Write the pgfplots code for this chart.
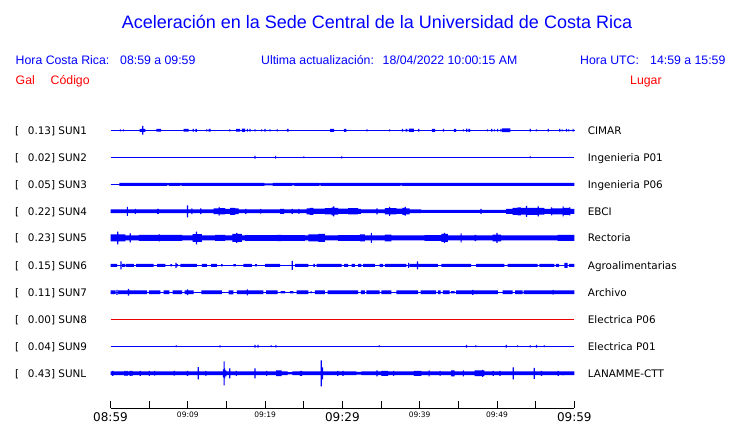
\documentclass[border=0pt]{standalone}
\usepackage{pgfplots}
\pgfplotsset{compat=1.18}
\usepackage{pgfplotstable}
\usepgfplotslibrary{fillbetween}
\usepackage{fontspec}
\setmainfont{DejaVu Sans}
\newfontfamily\lib{Liberation Sans}
\newfontfamily\dvs{DejaVu Sans}
\definecolor{ublue}{RGB}{0,0,255}
\definecolor{ured}{RGB}{255,0,0}
\definecolor{sred}{RGB}{235,0,0}
\newcommand{\bigt}[1]{{\fontsize{12}{13}\selectfont #1}}
\newcommand{\smt}[1]{{\fontsize{7.5}{8}\selectfont #1}}

% envelope tables: t (minutes after 08:59), h (half amplitude, px)
\pgfplotstableread{
t h
0 0
1.2 1
1.35 0
1.59 1
1.74 0
3.78 1.5
4.09 4.3
4.25 1.5
4.52 0
5.93 1.3
6.54 0
9.46 1.3
10.11 0
10.62 1.3
10.79 0
10.97 1.5
11.18 0
12.38 1
12.53 0
12.69 1.3
12.94 0
15.35 1
15.5 0
16.25 1.3
16.77 0
16.99 1.7
17.42 0
17.63 1.3
17.78 0
17.97 1.3
18.12 0
18.62 1
18.77 0
19.48 1
19.63 0
19.91 1.3
20.06 0
20.55 1
20.7 0
21.5 1
21.65 0
22.83 1.3
23.05 0
28.42 1.5
28.94 0
30.19 1.5
30.53 0
33.11 1
33.26 0
36.03 1
36.18 0
37.71 1.3
37.86 0
38.18 1.3
38.4 0
38.61 1.7
39.26 0
39.78 1.3
39.95 0
41.58 1.5
42.01 0
43.0 1.3
43.15 0
44.42 1.5
44.72 0
45.58 1
45.73 0
46.01 1.7
46.16 0
46.31 1.5
46.53 0
48.68 1
48.83 0
49.24 1.3
49.39 0
49.58 1
49.73 0
50.01 1.3
50.16 0
50.44 1.3
50.59 0
50.65 1.8
51.73 0
54.22 1.3
54.37 0
55.04 1
55.19 0
56.55 1.3
56.7 0
58.05 1.3
58.2 0
58.35 1
58.5 0
58.91 1.3
59.06 0
59.21 1
59.36 0
59.77 1.3
59.92 0
60 0
}\tA

\pgfplotstableread{
t h
0 0
18.62 1.3
18.77 0
21.29 1.3
21.44 0
24.94 0.8
25.09 0
29.84 1
29.99 0
54.22 0.8
54.37 0
60 0
}\tB

\pgfplotstableread{
t h
0 0
1.15 1.5
7.3 1.1
7.6 1.5
9.0 1.1
9.2 1.5
19.9 1.0
21.0 1.5
23.5 1.1
23.8 1.5
27.0 1.1
27.2 1.5
37.5 1.1
37.7 1.5
60 1.5
}\tC

\pgfplotstableread{
t h
0 1.8
2.11 4.5
2.26 1.8
3.14 2.5
3.29 1.8
6.02 2.5
6.25 1.8
9.89 6
10.04 1.8
10.45 2.8
10.6 1.8
11.61 2.8
11.76 1.8
13.33 2.8
13.98 4.3
14.13 3.2
14.84 2.5
15.48 3.5
16.13 2.8
16.56 1.8
17.42 2.5
17.57 1.8
19.35 2.3
19.5 1.8
21.93 2.5
22.45 1.8
23.44 2.5
23.59 1.8
24.3 2.5
24.45 1.8
25.37 3
25.8 3.5
26.23 2.7
27.74 3.2
28.6 4
28.81 5
28.96 3.3
29.46 2.7
30.75 3.2
32.04 2.5
32.38 1.8
34.4 3
34.55 1.8
35.48 3.2
36.03 4.5
36.18 3.2
36.98 2.7
37.75 3.5
38.06 4.3
38.21 3
38.7 1.8
40.2 1.5
47.86 2.5
48.01 1.5
51.17 2.5
52.03 3.5
52.68 4
53.1 3.3
53.75 5.5
53.9 3.5
54.61 3.5
55.26 5
55.41 3.3
56.12 2.5
56.98 4
57.13 3
57.84 3
58.48 5
58.63 3.5
59.34 4
59.49 2.5
60 2.5
}\tD

\pgfplotstableread{
t h
0 3.5
0.86 6.3
1.01 3.5
1.94 2.5
2.49 4.5
2.64 2.5
3.66 3
6.24 3.5
6.39 3
9.25 2.5
10.62 3.8
11.05 6.3
11.2 3.8
11.83 2.5
13.55 3
14.84 2.5
15.78 4
16.25 5
16.4 4
16.99 2.5
17.42 2.8
21.5 3.2
22.15 2.8
25.16 2.5
25.59 3.5
26.88 4
27.74 2.5
29.46 2.8
32.25 3.5
32.9 2.5
33.67 5
33.82 2.5
35.48 3.3
36.34 2.5
40.64 2.8
42.79 4
43.13 5
43.28 4
43.65 2.5
45.28 4.5
45.43 2.5
47.09 3.2
47.3 2.5
49.45 3.3
49.92 5
50.07 3.3
50.53 2.5
57.84 3
60 3
}\tE

\pgfplotstableread{
t h
0 1.5
0.86 0
1.29 4
1.44 0
1.5 1.5
1.94 0
2.02 1.5
3.01 0
3.31 1.5
5.59 0
6.02 1.5
7.1 0
7.74 1.2
7.96 0
8.39 2.5
8.54 1.2
8.73 0
9.03 1.5
11.18 0
11.83 1.5
12.47 0
13.03 1.5
13.76 0
14.32 1.2
14.49 0
15.91 1.2
16.21 0
17.2 1.5
18.28 0
18.7 1.2
18.92 0
20.0 1.5
21.93 0
23.44 4.5
23.6 0
23.87 1.5
25.59 0
26.23 1.5
26.45 0
26.66 1.5
29.89 0
30.23 1.5
30.75 0
31.18 1.5
31.61 0
32.04 1.5
32.47 0
32.68 1.5
34.19 0
34.83 1.5
35.26 0
35.48 1.5
38.27 0
38.49 2.5
38.64 0
38.7 1.5
39.65 4
39.8 1.5
42.36 0
42.79 1.5
46.66 0
47.3 1.5
50.96 0
51.39 1.5
55.26 0
55.47 1.5
57.41 0
57.62 1.5
58.05 0
58.7 2.5
59.13 0
59.34 1.5
60 1.5
}\tF

\pgfplotstableread{
t h
0 1.8
0.65 0
0.77 2.5
0.92 0
0.99 1.8
2.24 3.3
2.4 1.8
4.73 0
4.95 1.8
6.45 0
6.88 1.8
7.61 0
8.04 1.8
9.25 0
9.59 1.8
9.89 2.8
10.04 1.8
10.75 0
11.74 1.8
14.41 0
15.27 2
15.91 0
16.34 1.8
17.63 3
17.78 1.8
19.78 0
20.12 1.8
21.63 0
22.02 1.2
22.58 0
23.22 1.2
23.65 0
24.08 1.8
25.59 0
25.89 1.2
26.02 0
26.45 1.8
27.74 0
28.08 1.8
32.04 0
32.38 1.8
32.9 0
33.11 1.8
34.83 0
35.05 1.8
36.34 0
36.98 1.8
39.78 0
40.12 1.8
42.14 0
42.36 1.8
42.7 0
43.0 1.8
43.86 0
44.08 1.2
44.51 0
44.72 1.8
46.78 2.5
46.93 1.8
50.1 0
50.74 1.8
52.03 0
52.33 1.8
53.32 0
53.45 1.8
57.19 2.3
57.34 1.8
60 1.8
}\tG

\pgfplotstableread{
t h
0 0
8.43 0.8
8.58 0
14.1 1
14.25 0
18.62 1.3
18.77 0
19.0 1.3
19.15 0
20.73 0.8
20.88 0
21.3 1
21.5 0
34.7 0.8
34.85 0
45.97 1.3
46.12 0
47.17 0.8
47.32 0
51.13 1.3
51.28 0
52.59 0.8
52.74 0
54.22 1
54.37 0
55.04 1.3
55.19 0
56.03 0.8
56.18 0
60 0
}\tI

\pgfplotstableread{
t h
0 1.8
0.22 2.5
0.37 1.8
1.81 2.5
1.96 1.8
2.06 2.5
2.21 1.8
2.49 2.5
2.64 1.8
2.71 2.5
2.86 1.8
3.78 2.5
3.93 1.8
4.95 2.5
5.1 1.8
5.63 2.3
5.78 1.8
8.17 2.3
8.32 1.8
9.89 2.5
10.04 1.8
11.27 6.2
11.42 1.8
12.26 2.5
12.41 1.8
14.55 4
14.62 12
14.77 5
14.84 3
15.0 1.8
15.35 5
15.5 1.8
16.21 2.5
16.36 1.8
18.62 5
18.77 1.8
20.12 2.5
20.27 1.8
21.41 2.8
22.15 1.8
22.92 1.2
23.52 1.8
24.51 2.5
24.8 1.8
27.18 13
27.33 6
27.5 1.8
29.33 2.5
29.48 1.8
30.01 2.5
30.16 1.8
31.82 1.3
32.47 1.8
34.4 3
34.55 1.8
35.05 2.5
35.91 1.8
36.55 2.5
36.7 1.8
39.26 2.5
40.21 1.8
41.15 3
41.3 1.8
42.57 2.5
42.72 1.8
44.08 3
44.51 1.8
45.58 3
45.73 1.8
47.09 2.8
48.07 3.5
48.22 2.8
48.38 1.8
49.45 2.5
49.6 1.8
50.31 2.5
50.46 1.8
52.03 6
52.18 1.8
54.74 5.5
54.89 1.8
55.69 2.5
55.84 1.8
57.84 2.5
57.99 1.8
58.48 2
58.63 1.8
60 1.8
}\tL

\newcommand{\trace}[3]{%
  \addplot[name path=#3u, draw=none, const plot] table[x=t, y expr=#2+\thisrow{h}] {#1};
  \addplot[name path=#3d, draw=none, const plot] table[x=t, y expr=#2-\thisrow{h}] {#1};
  \addplot[draw=none, fill=ublue] fill between[of=#3u and #3d];
  \addplot[ublue, line width=1.1pt] table[x=t, y expr=#2] {#1};
}

\begin{document}
\begin{tikzpicture}
\path (0,0) rectangle (740pt,423pt);
\begin{axis}[
  at={(110.5pt,14.5pt)}, anchor=south west,
  scale only axis, width=463.8pt, height=408.5pt,
  xmin=0, xmax=60, ymin=14.5, ymax=423,
  axis x line*=bottom, hide y axis,
  xtick={0,5,...,60},
  xticklabels={{\bigt{08:59}},{},{\smt{09:09}},{},{\smt{09:19}},{},{\bigt{09:29}},{},{\smt{09:39}},{},{\smt{09:49}},{},{\bigt{09:59}}},
  xticklabel style={anchor=north, inner sep=0pt, yshift=-3.5pt, font=\dvs},
  tick align=inside, major tick length=7.5pt,
  axis line style={black, line width=0.9pt},
  tick style={black, line width=0.9pt},
  clip=false,
]
\trace{\tA}{292.7}{a}
\trace{\tB}{265.7}{b}
\trace{\tC}{238.7}{c}
\trace{\tD}{211.7}{d}
\trace{\tE}{185.0}{e}
\trace{\tF}{157.7}{f}
\trace{\tG}{130.7}{g}
\addplot[sred, line width=1.2pt] coordinates {(0,103.7) (60,103.7)};
\trace{\tI}{76.7}{i}
\trace{\tL}{49.7}{l}
\end{axis}

% title and header
\node[anchor=base, inner sep=0pt, text=ublue, font=\lib\fontsize{18}{20}\selectfont] at (377pt,394pt) {Aceleración en la Sede Central de la Universidad de Costa Rica};
\begin{scope}[every node/.style={anchor=base west, inner sep=0pt, font=\lib\fontsize{12.3}{14}\selectfont}]
\node[text=ublue] at (15.5pt,358.3pt) {Hora Costa Rica:};
\node[text=ublue] at (120pt,358.3pt) {08:59 a 09:59};
\node[text=ublue] at (261pt,358.3pt) {Ultima actualización:};
\node[text=ublue] at (382.5pt,358.3pt) {18/04/2022 10:00:15 AM};
\node[text=ublue] at (580pt,358.3pt) {Hora UTC:};
\node[text=ublue] at (650pt,358.3pt) {14:59 a 15:59};
\node[text=ured] at (15.5pt,338.6pt) {Gal};
\node[text=ured] at (50.5pt,338.6pt) {Código};
\node[text=ured] at (630pt,338.6pt) {Lugar};
\end{scope}

% row labels
\begin{scope}[every node/.style={anchor=base west, inner sep=0pt, font=\dvs\fontsize{10.4}{12}\selectfont}]
\foreach \y/\v/\n/\l in {288.9/0.13/SUN1/CIMAR, 261.9/0.02/SUN2/Ingenieria P01, 234.9/0.05/SUN3/Ingenieria P06, 207.9/0.22/SUN4/EBCI, 181.2/0.23/SUN5/Rectoria, 153.9/0.15/SUN6/Agroalimentarias, 126.9/0.11/SUN7/Archivo, 99.9/0.00/SUN8/Electrica P06, 72.9/0.04/SUN9/Electrica P01, 45.9/0.43/SUNL/LANAMME-CTT}{
  \node at (15pt,\y pt) {[};
  \node at (27.7pt,\y pt) {\v] \n};
  \node at (587.7pt,\y pt) {\l};
}
\end{scope}
\end{tikzpicture}
\end{document}
